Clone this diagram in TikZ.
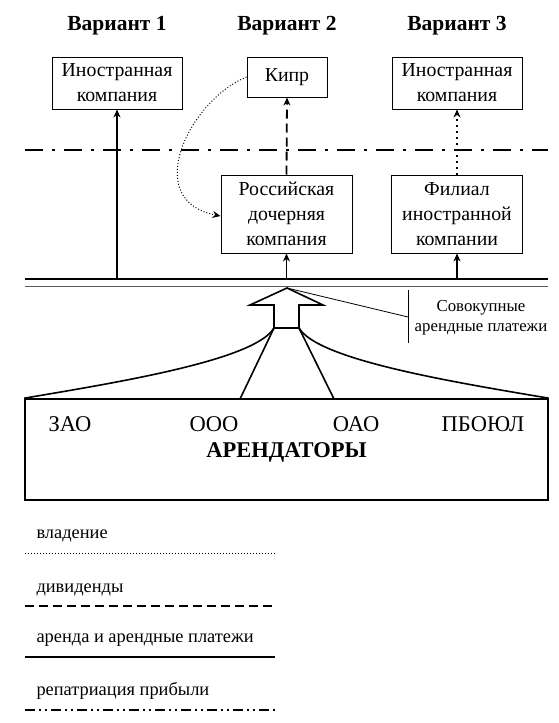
\documentclass[tikz,border=0pt]{standalone}
\usepackage{fontspec}
\setmainfont{Liberation Serif}
\usetikzlibrary{arrows.meta}
\begin{document}
\begin{tikzpicture}[x=1pt,y=-1pt,
  box/.style={draw, line width=1pt, align=center, inner sep=0pt, font=\fontsize{19.8}{25}\selectfont},
  ttl/.style={font=\fontsize{21.5}{24}\selectfont\bfseries},
  tip/.style={-{Stealth[length=8pt,width=7pt]}},
  ln/.style={line width=1.6pt},
  dashdot/.style={line width=2pt, dash pattern=on 18pt off 9pt on 3pt off 9pt},
  dashdotdot/.style={line width=2pt, dash pattern=on 10pt off 4pt on 2pt off 4pt on 2pt off 4pt},
  dsh/.style={line width=1.8pt, dash pattern=on 9pt off 5pt},
  dtt/.style={line width=1pt, dash pattern=on 1pt off 2pt},
  lbl/.style={font=\fontsize{22.5}{26}\selectfont},
  leg/.style={font=\fontsize{18.4}{22}\selectfont, anchor=base west},
]
\useasboundingbox (0,0) rectangle (558,723);

% titles
\node[ttl] (t1) at (117,26) {Вариант 1};
\node[ttl] (t2) at (287,26) {Вариант 2};
\node[ttl] (t3) at (457,26) {Вариант 3};

% top boxes
\node[box, minimum width=130pt, minimum height=52pt] (f1) at (117,83) {Иностранная\\компания};
\node[box, minimum width=80pt, minimum height=40pt] (kp) at (287,77) {Кипр};
\node[box, minimum width=130pt, minimum height=52pt] (f3) at (457,83) {Иностранная\\компания};

% middle boxes
\node[box, minimum width=131pt, minimum height=78pt] (ru) at (286.5,214) {Российская\\дочерняя\\компания};
\node[box, minimum width=131pt, minimum height=78pt] (fl) at (457,214) {Филиал\\иностранной\\компании};

% dash-dot border line
\coordinate (dl) at (25,150);
\coordinate (dr) at (548,150);
\draw[dashdot] (dl) -- (dr);

% double line
\coordinate (ul) at (25,279);
\coordinate (ur) at (548,279);
\coordinate (ll) at (25,286.5);
\coordinate (lr) at (548,286.5);
\draw[ln] (ul) -- (ur);
\draw[line width=1.2pt, black!65] (ll) -- (lr);

% connectors
\coordinate (b1) at (117,279);
\coordinate (b2) at (286.5,279);
\coordinate (b3) at (457,279);
\draw[ln, tip] (b1) -- (f1.south);
\draw[ln, tip] (b2) -- (ru.south);
\draw[ln, tip] (b3) -- (fl.south);
\draw[dsh, tip] (ru.north) -- (kp.south);
\draw[line width=1.8pt, dash pattern=on 2pt off 4pt, tip] (fl.north) -- (f3.south);
\draw[dtt, tip] (kp.west) .. controls (190,100) and (140,200) .. ([yshift=-2pt]ru.west);

% big hollow arrow
\coordinate (at) at (287,288);
\coordinate (ahr) at (323,305);
\coordinate (asr) at (299,305);
\coordinate (abr) at (299,328);
\coordinate (abl) at (274,328);
\coordinate (asl) at (274,305);
\coordinate (ahl) at (250,305);
\draw[ln, line join=miter] (at) -- (ahr) -- (asr) -- (abr) -- (abl) -- (asl) -- (ahl) -- cycle;

% tenants box
\node[draw, line width=1.6pt, minimum width=523pt, minimum height=101pt, inner sep=0pt] (ar) at (286.5,449.5) {};
\coordinate (c1) at (240,399);
\coordinate (c2) at (334,399);
\draw[ln] (abl) .. controls (255,360) and (120,382) .. (ar.north west);
\draw[ln] (abl) -- (c1);
\draw[ln] (abr) -- (c2);
\draw[ln] (abr) .. controls (318,360) and (453,382) .. (ar.north east);

\node[lbl] (z1) at (70,424) {ЗАО};
\node[lbl] (z2) at (214,424) {ООО};
\node[lbl] (z3) at (356,424) {ОАО};
\node[lbl] (z4) at (483,424) {ПБОЮЛ};
\node[font=\fontsize{22.5}{26}\selectfont\bfseries] (zz) at (286.5,452) {АРЕНДАТОРЫ};

% note
\coordinate (nk) at (408,317);
\coordinate (nt) at (408,290);
\coordinate (nb) at (408,343);
\draw[line width=0.8pt] (at) -- (nk);
\draw[line width=0.8pt] (nt) -- (nb);
\node[align=center, font=\fontsize{16.8}{19.5}\selectfont] (nn) at (481,317.5) {Совокупные\\арендные платежи};

% legend
\node[leg] (l1) at (33,538) {владение};
\coordinate (l1a) at (25,553); \coordinate (l1b) at (275,553);
\draw[dtt] (l1a) -- (l1b);
\node[leg] (l2) at (33,592) {дивиденды};
\coordinate (l2a) at (25,606); \coordinate (l2b) at (275,606);
\draw[dsh] (l2a) -- (l2b);
\node[leg] (l3) at (33,642) {аренда и арендные платежи};
\coordinate (l3a) at (25,657); \coordinate (l3b) at (275,657);
\draw[line width=2pt] (l3a) -- (l3b);
\node[leg] (l4) at (33,695) {репатриация прибыли};
\coordinate (l4a) at (25,710); \coordinate (l4b) at (275,710);
\draw[dashdotdot] (l4a) -- (l4b);
\end{tikzpicture}
\end{document}
